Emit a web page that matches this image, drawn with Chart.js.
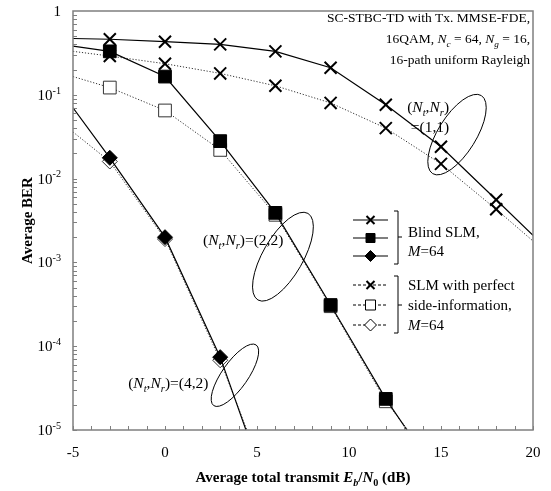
<!DOCTYPE html>
<html>
<head>
<meta charset="utf-8">
<script src="https://cdn.jsdelivr.net/npm/chart.js@4.4.1/dist/chart.umd.min.js"></script>
<style>
html, body { margin: 0; padding: 0; background: #fff; }
#wrap { width: 551px; height: 491px; position: relative; }
</style>
</head>
<body>
<div id="wrap"><canvas id="chart"></canvas></div>
<script>
// Eb/N0 (dB) where the simulation markers sit
var markerSnr = [-3, 0, 3, 6, 9, 12, 15, 18];

// (Nt,Nr)=(1,1) – curves run from the left frame to the right frame
var snr11 = [-5, -3, 0, 3, 6, 9, 12, 15, 18, 20];
var blind11 = [0.47, 0.46, 0.43, 0.40, 0.33, 0.21, 0.076, 0.024, 0.0056, 0.0021];
var perfect11 = [0.33, 0.29, 0.235, 0.18, 0.128, 0.08, 0.04, 0.015, 0.0043, 0.0018];

// (Nt,Nr)=(2,2) – last point is where the curve leaves through 1e-5
var snr22 = [-5, -3, 0, 3, 6, 9, 12, 13.15];
var blind22 = [0.38, 0.33, 0.165, 0.028, 0.0039, 0.00031, 0.0000235, 0.00001];
var snr22p = [-5, -3, 0, 3, 6, 9, 12, 13.2];
var perfect22 = [0.165, 0.122, 0.065, 0.022, 0.0037, 0.0003, 0.000022, 0.00001];

// (Nt,Nr)=(4,2)
var snr42 = [-5, -3, 0, 3, 4.4];
var blind42 = [0.07, 0.0177, 0.002, 0.000074, 0.00001];
var snr42p = [-5, -3, 0, 3, 4.45];
var perfect42 = [0.036, 0.016, 0.0019, 0.000068, 0.00001];

var xTicks = [-5, 0, 5, 10, 15, 20];
var yExponents = [0, -1, -2, -3, -4, -5];

var serif = "'Liberation Serif', 'Times New Roman', serif";

function toPoints(xs, ys) {
  var pts = [];
  for (var i = 0; i < xs.length; i++) pts.push({ x: xs[i], y: ys[i] });
  return pts;
}

function markerRadius(r) {
  return function(ctx) {
    var p = ctx.raw;
    return (p && markerSnr.indexOf(p.x) >= 0) ? r : 0;
  };
}

function series(xs, ys, opts) {
  var ds = {
    data: toPoints(xs, ys),
    showLine: true,
    borderColor: '#000',
    borderWidth: 1.2,
    pointStyle: opts.style,
    pointRadius: markerRadius(opts.r),
    pointHoverRadius: 0,
    pointBackgroundColor: opts.fill,
    pointBorderColor: opts.edge || '#000',
    pointBorderWidth: opts.pbw || 1
  };
  if (opts.dotted) {
    ds.borderDash = [1.2, 1.8];
    ds.borderWidth = 1;
    ds.borderColor = '#333';
  }
  return ds;
}

// rich text: parts = [{t, i (italic), s ('sub'|'sup')}]
function partFont(p, size, bold) {
  var sz = p.s ? size * 0.68 : size;
  return (p.i ? 'italic ' : '') + (bold ? 'bold ' : '') + sz.toFixed(1) + 'px ' + serif;
}
function drawRich(ctx, parts, x, y, size, align, bold) {
  var w = 0;
  parts.forEach(function(p) { ctx.font = partFont(p, size, bold); w += ctx.measureText(p.t).width; });
  var cx = align === 'right' ? x - w : (align === 'center' ? x - w / 2 : x);
  ctx.textAlign = 'left';
  ctx.textBaseline = 'alphabetic';
  parts.forEach(function(p) {
    ctx.font = partFont(p, size, bold);
    var dy = p.s === 'sub' ? size * 0.28 : (p.s === 'sup' ? -size * 0.42 : 0);
    ctx.fillText(p.t, cx, y + dy);
    cx += ctx.measureText(p.t).width;
  });
}

var NtNr = [{ t: '(' }, { t: 'N', i: true }, { t: 't', i: true, s: 'sub' }, { t: ',' },
            { t: 'N', i: true }, { t: 'r', i: true, s: 'sub' }, { t: ')' }];

function marker(ctx, style, x, y, r, fill) {
  ctx.save();
  ctx.strokeStyle = '#000';
  ctx.fillStyle = fill;
  ctx.beginPath();
  if (style === 'cross') {
    ctx.lineWidth = 2;
    ctx.moveTo(x - r, y - r); ctx.lineTo(x + r, y + r);
    ctx.moveTo(x + r, y - r); ctx.lineTo(x - r, y + r);
    ctx.stroke();
  } else if (style === 'rect') {
    ctx.lineWidth = 1;
    ctx.rect(x - r, y - r, 2 * r, 2 * r);
    ctx.fill(); ctx.stroke();
  } else {
    ctx.lineWidth = 1;
    ctx.moveTo(x, y - r); ctx.lineTo(x + r, y); ctx.lineTo(x, y + r); ctx.lineTo(x - r, y);
    ctx.closePath();
    ctx.fill(); ctx.stroke();
  }
  ctx.restore();
}

var decor = {
  id: 'decor',
  afterDraw: function(chart) {
    var ctx = chart.ctx, a = chart.chartArea;
    var xs = chart.scales.x, ys = chart.scales.y;
    ctx.save();

    // frame
    ctx.strokeStyle = '#7f7f7f';
    ctx.lineWidth = 1.5;
    ctx.strokeRect(a.left, a.top, a.right - a.left, a.bottom - a.top);

    // inside ticks
    ctx.lineWidth = 1;
    ctx.beginPath();
    for (var v = -5; v <= 20; v++) {
      var px = Math.round(xs.getPixelForValue(v)) + 0.5;
      ctx.moveTo(px, a.bottom); ctx.lineTo(px, a.bottom - 4);
    }
    for (var e = -5; e < 0; e++) {
      for (var k = 1; k <= 9; k++) {
        var py = Math.round(ys.getPixelForValue(k * Math.pow(10, e))) + 0.5;
        ctx.moveTo(a.left, py); ctx.lineTo(a.left + 4, py);
      }
    }
    ctx.stroke();

    ctx.fillStyle = '#000';
    // x tick labels
    xTicks.forEach(function(t) {
      drawRich(ctx, [{ t: String(t) }], xs.getPixelForValue(t), a.bottom + 27, 15, 'center');
    });
    // y tick labels
    yExponents.forEach(function(n) {
      var py = ys.getPixelForValue(Math.pow(10, n));
      var parts = n === 0 ? [{ t: '1' }] : [{ t: '10' }, { t: '-' + (-n), s: 'sup' }];
      drawRich(ctx, parts, a.left - 12, py + 5, 15, 'right');
    });

    // axis titles
    drawRich(ctx, [{ t: 'Average total transmit ' }, { t: 'E', i: true }, { t: 'b', i: true, s: 'sub' },
                   { t: '/' }, { t: 'N', i: true }, { t: '0', s: 'sub' }, { t: ' (dB)' }],
             (a.left + a.right) / 2, a.bottom + 52, 15, 'center', true);
    ctx.save();
    ctx.translate(27, (a.top + a.bottom) / 2);
    ctx.rotate(-Math.PI / 2);
    drawRich(ctx, [{ t: 'Average BER' }], 0, 5, 15, 'center', true);
    ctx.restore();

    // condition text, top right
    var tx = a.right - 3;
    drawRich(ctx, [{ t: 'SC-STBC-TD with Tx. MMSE-FDE,' }], tx, a.top + 11, 13.5, 'right');
    drawRich(ctx, [{ t: '16QAM, ' }, { t: 'N', i: true }, { t: 'c', i: true, s: 'sub' }, { t: ' = 64, ' },
                   { t: 'N', i: true }, { t: 'g', i: true, s: 'sub' }, { t: ' = 16,' }], tx, a.top + 32, 13.5, 'right');
    drawRich(ctx, [{ t: '16-path uniform Rayleigh' }], tx, a.top + 53, 13.5, 'right');

    // group labels and ellipses (anchored in data units)
    function P(x, y) { return [xs.getPixelForValue(x), ys.getPixelForValue(y)]; }
    var p;
    p = P(14.3, 0.063); drawRich(ctx, NtNr, p[0], p[1], 15.5, 'center');
    p = P(14.4, 0.036); drawRich(ctx, [{ t: '=(1,1)' }], p[0], p[1], 15.5, 'center');
    p = P(2.07, 0.00162); drawRich(ctx, NtNr.concat([{ t: '=(2,2)' }]), p[0], p[1], 15.5, 'left');
    p = P(-2.0, 0.000032); drawRich(ctx, NtNr.concat([{ t: '=(4,2)' }]), p[0], p[1], 15.5, 'left');

    ctx.strokeStyle = '#000';
    ctx.lineWidth = 1;
    [[15.87, 0.0335, 46, 19, -58], [6.41, 0.00117, 50, 20, -60], [3.8, 0.000045, 37, 13, -55]].forEach(function(el) {
      var c = P(el[0], el[1]);
      ctx.beginPath();
      ctx.ellipse(c[0], c[1], el[2], el[3], el[4] * Math.PI / 180, 0, 2 * Math.PI);
      ctx.stroke();
    });

    // legend
    var lx0 = 353, lx1 = 388, mx = 370.5, bx = 398;
    var rows1 = [220, 238, 256], rows2 = [285, 305, 325];
    var styles = [['cross', 4, '#000'], ['rect', 4.5, '#000'], ['diamond', 5.5, '#000']];
    var styles2 = [['cross', 4, '#000'], ['rect', 5, '#fff'], ['diamond', 6, '#fff']];
    rows1.forEach(function(ry, i) {
      ctx.strokeStyle = '#000'; ctx.lineWidth = 1.2; ctx.setLineDash([]);
      ctx.beginPath(); ctx.moveTo(lx0, ry); ctx.lineTo(lx1, ry); ctx.stroke();
      marker(ctx, styles[i][0], mx, ry, styles[i][1], styles[i][2]);
    });
    rows2.forEach(function(ry, i) {
      ctx.strokeStyle = '#000'; ctx.lineWidth = 1; ctx.setLineDash([3, 2]);
      ctx.beginPath(); ctx.moveTo(lx0, ry); ctx.lineTo(lx1, ry); ctx.stroke();
      ctx.setLineDash([]);
      marker(ctx, styles2[i][0], mx, ry, styles2[i][1], styles2[i][2]);
    });
    ctx.setLineDash([]);
    ctx.lineWidth = 1;
    ctx.beginPath();
    ctx.moveTo(bx - 4, 211); ctx.lineTo(bx, 211); ctx.lineTo(bx, 264); ctx.lineTo(bx - 4, 264);
    ctx.moveTo(bx, 237); ctx.lineTo(bx + 4, 237);
    ctx.moveTo(bx - 4, 276); ctx.lineTo(bx, 276); ctx.lineTo(bx, 333); ctx.lineTo(bx - 4, 333);
    ctx.moveTo(bx, 305); ctx.lineTo(bx + 4, 305);
    ctx.stroke();

    var tl = 408;
    drawRich(ctx, [{ t: 'Blind SLM,' }], tl, 237, 15, 'left');
    drawRich(ctx, [{ t: 'M', i: true }, { t: '=64' }], tl, 256, 15, 'left');
    drawRich(ctx, [{ t: 'SLM with perfect' }], tl, 290, 15, 'left');
    drawRich(ctx, [{ t: 'side-information,' }], tl, 310, 15, 'left');
    drawRich(ctx, [{ t: 'M', i: true }, { t: '=64' }], tl, 330, 15, 'left');

    ctx.restore();
  }
};

new Chart(document.getElementById('chart'), {
  type: 'scatter',
  data: {
    datasets: [
      series(snr11, blind11, { style: 'crossRot', r: 8.5, fill: '#000', pbw: 2 }),
      series(snr22, blind22, { style: 'rect', r: 9, fill: '#000' }),
      series(snr42, blind42, { style: 'rectRot', r: 7.5, fill: '#000' }),
      series(snr11, perfect11, { style: 'crossRot', r: 8.5, fill: '#000', pbw: 2, dotted: true }),
      series(snr22p, perfect22, { style: 'rect', r: 9, fill: '#fff', edge: '#333', dotted: true }),
      series(snr42p, perfect42, { style: 'rectRot', r: 7.5, fill: '#fff', edge: '#333', dotted: true })
    ]
  },
  options: {
    responsive: true,
    maintainAspectRatio: false,
    animation: false,
    layout: { padding: { left: 73, right: 18, top: 11, bottom: 61 } },
    plugins: { legend: { display: false }, tooltip: { enabled: false } },
    scales: {
      x: {
        type: 'linear', min: -5, max: 20,
        grid: { display: false, drawTicks: false },
        border: { display: false },
        ticks: { display: false }
      },
      y: {
        type: 'logarithmic', min: 0.00001, max: 1,
        grid: { display: false, drawTicks: false },
        border: { display: false },
        ticks: { display: false }
      }
    }
  },
  plugins: [decor]
});
</script>
</body>
</html>
